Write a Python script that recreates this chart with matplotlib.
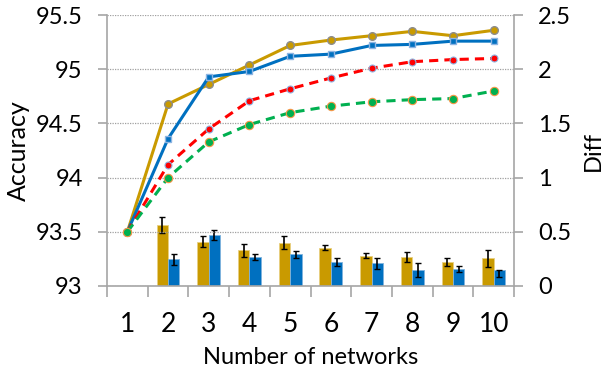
import matplotlib
matplotlib.use("Agg")
import matplotlib.pyplot as plt
import numpy as np

# data
nets = np.arange(1, 11)
acc_gold = [93.5, 94.68, 94.86, 95.04, 95.22, 95.27, 95.31, 95.35, 95.31, 95.36]
acc_blue = [93.5, 94.36, 94.93, 94.98, 95.12, 95.14, 95.22, 95.23, 95.26, 95.26]
acc_red = [93.5, 94.12, 94.45, 94.71, 94.82, 94.92, 95.01, 95.07, 95.09, 95.10]
acc_green = [93.5, 94.0, 94.33, 94.49, 94.60, 94.66, 94.70, 94.72, 94.73, 94.80]

# no bars for a single network
bar_nets = nets[1:]
diff_gold = [0.565, 0.41, 0.33, 0.40, 0.355, 0.28, 0.266, 0.22, 0.256]
err_gold = [0.074, 0.05, 0.058, 0.062, 0.026, 0.02, 0.046, 0.037, 0.08]
diff_blue = [0.247, 0.472, 0.266, 0.293, 0.222, 0.21, 0.148, 0.155, 0.148]
err_blue_lo = [0.05, 0.046, 0.025, 0.034, 0.037, 0.05, 0.063, 0.026, 0.065]
err_blue_hi = [0.05, 0.046, 0.025, 0.034, 0.037, 0.05, 0.063, 0.026, 0.0]

gold = "#C99A00"
blue = "#0070C0"
red = "#FF0000"
green = "#00B050"
grey = "#A6A6A6"

plt.rcParams['font.family'] = ['Lato', 'DejaVu Sans']

fig = plt.figure(figsize=(6.06, 3.69), dpi=100)
ax = fig.add_axes([0.1766, 0.225, 0.6716, 0.734])
ax2 = ax.twinx()
ax.set_zorder(ax2.get_zorder() + 1)
ax.patch.set_visible(False)

# bars on the right axis
w = 0.28
ekw = dict(ecolor="black", elinewidth=1.2, capsize=2.5, capthick=1)
ax2.bar(bar_nets - w/2, diff_gold, w, color=gold, edgecolor="#E8CF80", linewidth=0.6,
        yerr=err_gold, error_kw=ekw)
ax2.bar(bar_nets + w/2, diff_blue, w, color=blue, edgecolor="#7FB3DD", linewidth=0.6,
        yerr=[err_blue_lo, err_blue_hi], error_kw=ekw)
ax2.set_ylim(0, 2.5)
ax2.set_yticks([0, 0.5, 1, 1.5, 2, 2.5])
ax2.set_yticklabels(["0", "0.5", "1", "1.5", "2", "2.5"])
ax2.set_ylabel("Diff", fontsize=17, labelpad=8)

# lines on the left axis
ax.plot(nets, acc_gold, color=gold, lw=2.2, marker="o", ms=5.5, mfc=gold, mec="#8C8C8C", mew=1)
ax.plot(nets, acc_blue, color=blue, lw=2.2, marker="s", ms=5, mfc=blue, mec="#8DB4E2", mew=1)
ax.plot(nets, acc_red, color=red, lw=2.2, ls=(0, (3, 2)), marker="o", ms=5, mfc=red, mec="#8DB4E2", mew=0.8)
ax.plot(nets, acc_green, color=green, lw=2.2, ls=(0, (3, 2)), marker="o", ms=6, mfc=green, mec="#F79646", mew=0.8)
ax.set_ylim(93, 95.5)
ax.set_xlim(0.5, 10.5)
ax.set_yticks([93, 93.5, 94, 94.5, 95, 95.5])
ax.set_yticklabels(["93", "93.5", "94", "94.5", "95", "95.5"])
ax.set_xticks(nets)
ax.set_xticks(np.arange(0.5, 11, 1), minor=True)
ax.set_ylabel("Accuracy", fontsize=18, labelpad=4)
ax.set_xlabel("Number of networks", fontsize=17, labelpad=7)

ax.grid(axis="y", color="#A0A0A0", ls=(0, (1, 1)), lw=0.9)
ax.set_axisbelow(True)

for a in (ax, ax2):
    a.spines["top"].set_visible(False)
    for s in ("left", "right", "bottom"):
        a.spines[s].set_color(grey)
        a.spines[s].set_linewidth(1.2)
    a.tick_params(axis="y", labelsize=17, color=grey, length=6.5, width=1.2, pad=11)
ax.spines["right"].set_visible(False)
ax2.spines["left"].set_visible(False)
ax2.spines["bottom"].set_visible(False)
ax.tick_params(axis="x", which="major", length=0, labelsize=19, pad=19)
ax.tick_params(axis="x", which="minor", length=8, width=1.2, color=grey)

fig.savefig("out.png", dpi=100)
